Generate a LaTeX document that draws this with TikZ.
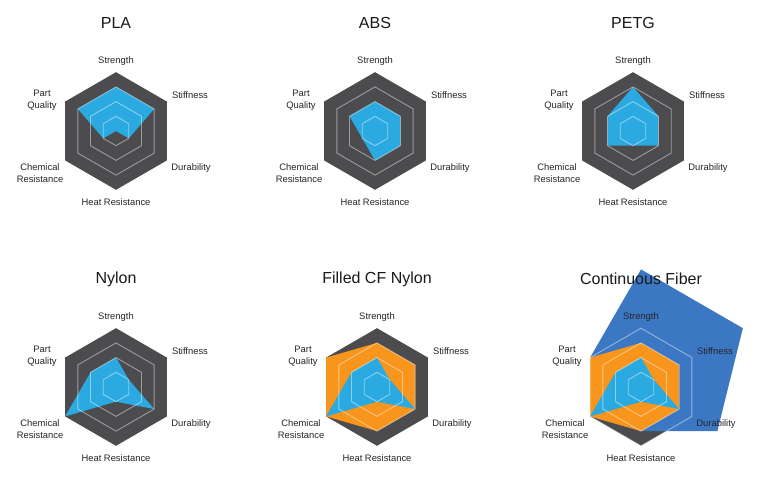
\documentclass[tikz,border=0pt]{standalone}
\usepackage{fontspec}
\setmainfont{Liberation Sans}
\definecolor{hexgray}{HTML}{4C4C4E}
\definecolor{matblue}{HTML}{2AAAE1}
\definecolor{cforange}{HTML}{F7951C}
\definecolor{fiberblue}{HTML}{3C77C4}
\tikzstyle{gridline} = [draw=white, draw opacity=0.45, line width=0.9pt]
\tikzstyle{axislabel} = [font=\fontsize{9.4}{11.5}\selectfont, text=black!85, align=center, inner sep=0pt]
\tikzstyle{charttitle} = [font=\fontsize{16}{18}\selectfont, text=black!90, inner sep=0pt]
\newcommand{\lvl}{14.7}
\newcommand{\radararea}[7]{\fill[#1] (90:{#2*\lvl}) -- (30:{#3*\lvl}) -- (-30:{#4*\lvl}) -- (-90:{#5*\lvl}) -- (-150:{#6*\lvl}) -- (150:{#7*\lvl}) -- cycle;}
\newcommand{\radarring}[1]{\draw[gridline] (90:{#1*\lvl}) -- (30:{#1*\lvl}) -- (-30:{#1*\lvl}) -- (-90:{#1*\lvl}) -- (-150:{#1*\lvl}) -- (150:{#1*\lvl}) -- cycle;}
\newcommand{\radarlabels}[2]{%
  \node (#1-title) [charttitle] at (0,108) {#2};
  \node (#1-str) [axislabel] at (0,70) {Strength};
  \node (#1-stf) [axislabel] at (74,36) {Stiffness};
  \node (#1-dur) [axislabel] at (75,-37) {Durability};
  \node (#1-heat) [axislabel] at (0,-71) {Heat Resistance};
  \node (#1-chem) [axislabel] at (-76,-42) {Chemical\\Resistance};
  \node (#1-pq) [axislabel] at (-74,31) {Part\\Quality};}

\begin{document}
\begin{tikzpicture}[x=1pt,y=1pt]
\useasboundingbox[fill=white] (0,0) rectangle (768,487);

\begin{scope}[shift={(116,356)}]
  \radararea{hexgray}{4}{4}{4}{4}{4}{4}
  \radararea{matblue}{3}{3}{1}{0}{1}{3}
  \foreach \r in {1,2,3} {\radarring{\r}}
  \radarlabels{pla}{PLA}
\end{scope}

\begin{scope}[shift={(375,356)}]
  \radararea{hexgray}{4}{4}{4}{4}{4}{4}
  \radararea{matblue}{2}{2}{2}{2}{1}{2}
  \foreach \r in {1,2,3} {\radarring{\r}}
  \radarlabels{abs}{ABS}
\end{scope}

\begin{scope}[shift={(633,356)}]
  \radararea{hexgray}{4}{4}{4}{4}{4}{4}
  \radararea{matblue}{3}{2}{2}{1}{2}{2}
  \foreach \r in {1,2,3} {\radarring{\r}}
  \radarlabels{petg}{PETG}
\end{scope}

\begin{scope}[shift={(116,100)}]
  \radararea{hexgray}{4}{4}{4}{4}{4}{4}
  \radararea{matblue}{2}{1}{3}{1}{4}{2}
  \foreach \r in {1,2,3} {\radarring{\r}}
  \radarlabels{nylon}{Nylon}
\end{scope}

\begin{scope}[shift={(377,100)}]
  \radararea{hexgray}{4}{4}{4}{4}{4}{4}
  \radararea{cforange}{3}{3}{3}{3}{4}{4}
  \radararea{matblue}{2}{1}{3}{1}{4}{2}
  \foreach \r in {1,2,3} {\radarring{\r}}
  \radarlabels{cfnylon}{Filled CF Nylon}
\end{scope}

\begin{scope}[shift={(641,100)}]
  \radararea{hexgray}{4}{4}{4}{4}{4}{4}
  \radararea{fiberblue}{8}{8}{6}{3}{4}{4}
  \radararea{cforange}{3}{3}{3}{3}{4}{4}
  \radararea{matblue}{2}{1}{3}{1}{4}{2}
  \foreach \r in {1,2,3,4} {\radarring{\r}}
  \radarlabels{fiber}{Continuous Fiber}
\end{scope}
\end{tikzpicture}
\end{document}
